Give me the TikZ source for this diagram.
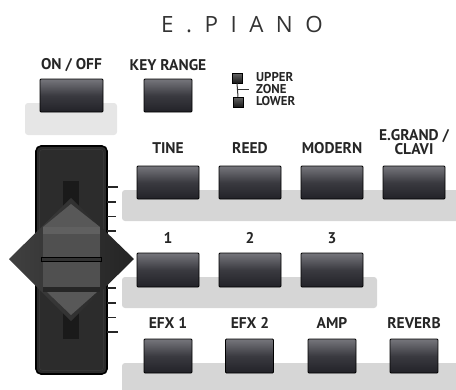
\documentclass[tikz,border=0pt]{standalone}
\usepackage{fontspec}
\newfontfamily\lblfont{PT Sans}
\newfontfamily\titlefont{Open Sans}
\definecolor{plate}{RGB}{214,214,214}
\definecolor{plateL}{RGB}{230,230,230}
\definecolor{btntop}{RGB}{118,118,124}
\definecolor{btnmid}{RGB}{58,58,64}
\definecolor{btnbot}{RGB}{34,34,40}
\definecolor{house}{RGB}{44,44,44}
\definecolor{slotc}{RGB}{26,26,26}
\definecolor{diaL}{RGB}{64,64,64}
\definecolor{diaR}{RGB}{36,36,36}
\definecolor{knob}{RGB}{80,80,80}
\definecolor{knobtop}{RGB}{96,96,96}
\definecolor{tri}{RGB}{88,88,88}
\tikzset{
  btn/.style={draw=black, line width=0.8pt, rounded corners=1pt, inner sep=0pt,
    top color=btntop, bottom color=btnbot, middle color=btnmid,
    minimum height=33pt},
  wide/.style={btn, minimum width=62pt},
  narrow/.style={btn, minimum width=48pt},
  lbl/.style={font=\lblfont\bfseries\fontsize{15.5}{12.5}\selectfont, inner sep=0pt, text=black!85},
  small/.style={font=\lblfont\bfseries\fontsize{12.8}{12}\selectfont, inner sep=0pt, anchor=west, text=black!85},
  led/.style={draw=black, line width=0.5pt, inner sep=0pt, minimum size=10pt,
    top color=black!60, bottom color=black!90},
  platefill/.style={fill=plate, rounded corners=3pt},
  tick/.style={line width=1.8pt, black!85},
}
\begin{document}
\begin{tikzpicture}[x=1pt,y=-1pt]
\useasboundingbox (0,0) rectangle (456,389);
% title
\node[inner sep=0pt, font=\titlefont\fontsize{22.4}{22}\selectfont, text=black!80] (title) at (242,25)
  {E\kern12.5pt.\kern12.5pt P\kern12.5pt I\kern12.5pt A\kern12.5pt N\kern12.5pt O};
% plates
\fill[fill=plateL, rounded corners=3pt] (25,103) rectangle (117,135);
\fill[platefill] (122,190) rectangle (470,221);
\fill[platefill] (122,277) rectangle (377,308);
\fill[platefill] (122,363) rectangle (470,400);
% top buttons
\node[lbl] (onofflbl) at (71.5,65) {ON / OFF};
\node[lbl] (keylbl) at (168,65) {KEY RANGE};
\node[btn, minimum width=63pt] (onoff) at (71.5,95.5) {};
\node[narrow] (keyrange) at (168,95.5) {};
% zone indicator
\node[led] (ledU) at (237,78) {};
\node[led] (ledL) at (238,102) {};
\node[small] (upper) at (256,77) {UPPER};
\node[small] (zone) at (256,89) {ZONE};
\node[small] (lower) at (256,101) {LOWER};
\coordinate (zj) at (237.5,89);
\coordinate (zs) at (249,89);
\draw[line width=1pt, black!80] (ledU.south) -- (ledL.north);
\draw[line width=1pt, black!80] (zj) -- (zs);
% row 1
\node[lbl] (tinelbl) at (168,148) {TINE};
\node[lbl] (reedlbl) at (250,148) {REED};
\node[lbl] (modlbl) at (332,148) {MODERN};
\node[lbl, align=center] (egrlbl) at (414,142) {E.GRAND /\\CLAVI};
\node[wide] (tine) at (168,182.5) {};
\node[wide] (reed) at (250,182.5) {};
\node[wide] (modern) at (332,182.5) {};
\node[wide] (egrand) at (414,182.5) {};
% row 2
\node[lbl] (onelbl) at (168,238) {1};
\node[lbl] (twolbl) at (250,238) {2};
\node[lbl] (threelbl) at (332,238) {3};
\node[wide, minimum height=34pt] (one) at (168,270) {};
\node[wide, minimum height=34pt] (two) at (250,270) {};
\node[wide, minimum height=34pt] (three) at (332,270) {};
% row 3
\node[lbl] (efxalbl) at (168,323) {EFX 1};
\node[lbl] (efxblbl) at (250,323) {EFX 2};
\node[lbl] (amplbl) at (332,323) {AMP};
\node[lbl] (revlbl) at (414,323) {REVERB};
\node[narrow, minimum height=34pt] (efxa) at (168,356) {};
\node[narrow, minimum height=34pt] (efxb) at (249.5,356) {};
\node[narrow, minimum height=34pt] (amp) at (332,356) {};
\node[narrow, minimum height=34pt] (reverb) at (414,356) {};
% slider housing
\filldraw[fill=house, draw=black, line width=1.6pt, rounded corners=5pt] (36,146) rectangle (107,374);
\draw[black!70!white!30!house, line width=0.6pt, rounded corners=3pt] (39.5,149.5) rectangle (103.5,370.5);
\fill[slotc] (63,181) rectangle (79,339);
% ticks
\draw[tick] (107,187) -- (118,187);
\draw[tick] (107,202) -- (116,202);
\draw[tick] (107,216.5) -- (116,216.5);
\draw[tick] (107,231) -- (116,231);
\draw[tick] (107,288) -- (116,288);
\draw[tick] (107,303) -- (116,303);
\draw[tick] (107,317.5) -- (116,317.5);
\draw[tick] (107,332) -- (118,332);
% diamond
\shade[left color=diaL, right color=diaR] (9,259) -- (71,198) -- (134,259) -- (71,321) -- cycle;
\fill[tri] (71,204) -- (100,227) -- (43,227) -- cycle;
\fill[knob] (43,227) rectangle (100,258);
\fill[knobtop] (43,227) rectangle (100,234);
\filldraw[fill=black!80, draw=black, line width=0.8pt] (41,257.5) rectangle (101,261.5);
\fill[knob] (43,262) rectangle (100,288);
\fill[black!85] (43,287) rectangle (100,292);
\fill[tri] (47,292) -- (97,292) -- (71,315) -- cycle;
\end{tikzpicture}
\end{document}
